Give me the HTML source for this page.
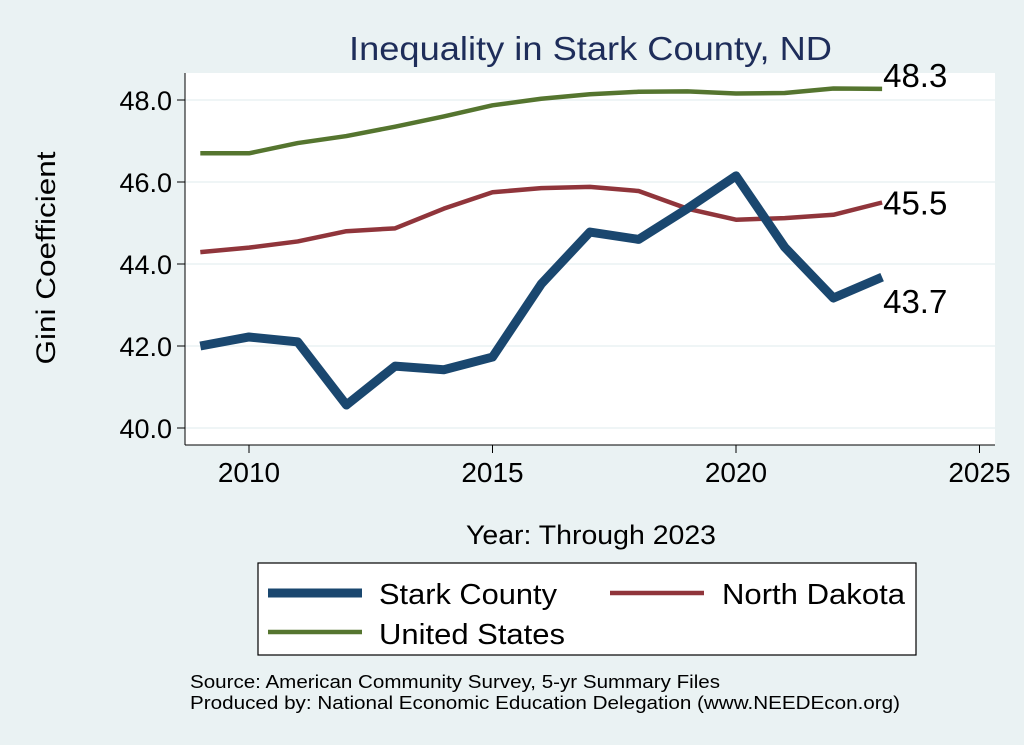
<!DOCTYPE html>
<html><head><meta charset="utf-8"><style>
body{margin:0;background:#eaf2f3;}
svg{display:block;font-family:"Liberation Sans",sans-serif;}
</style></head><body>
<svg id="chart" width="1024" height="745">
<rect x="0" y="0" width="1024" height="745" fill="#eaf2f3"/>
<text x="349" y="60" font-size="33" fill="#1e2d5a" textLength="483" lengthAdjust="spacingAndGlyphs">Inequality in Stark County, ND</text>
<rect x="185" y="73" width="810" height="372" fill="#fff"/>
<g id="grid"></g>
<g id="axes"></g>
<g id="series"></g>
<text x="55" y="258" font-size="27" fill="#000" text-anchor="middle" textLength="213" lengthAdjust="spacingAndGlyphs" transform="rotate(-90 55 258)">Gini Coefficient</text>
<text x="466" y="544" font-size="27" fill="#000" textLength="250" lengthAdjust="spacingAndGlyphs">Year: Through 2023</text>
<g>
<rect x="258" y="563" width="658" height="92" fill="#fff" stroke="#000" stroke-width="1.2"/>
<line x1="268" y1="593" x2="362" y2="593" stroke="#1a476f" stroke-width="9"/>
<text x="379" y="604" font-size="29" textLength="178" lengthAdjust="spacingAndGlyphs">Stark County</text>
<line x1="610" y1="593" x2="704" y2="593" stroke="#90353b" stroke-width="4.5"/>
<text x="722" y="604" font-size="29" textLength="183" lengthAdjust="spacingAndGlyphs">North Dakota</text>
<line x1="268" y1="632" x2="362" y2="632" stroke="#55752f" stroke-width="4.5"/>
<text x="379" y="644" font-size="29" textLength="186" lengthAdjust="spacingAndGlyphs">United States</text>
</g>
<text x="190" y="688" font-size="18" textLength="530" lengthAdjust="spacingAndGlyphs">Source: American Community Survey, 5-yr Summary Files</text>
<text x="190" y="709" font-size="18" textLength="710" lengthAdjust="spacingAndGlyphs">Produced by: National Economic Education Delegation (www.NEEDEcon.org)</text>
</svg>
<script>
const years=[2009,2010,2011,2012,2013,2014,2015,2016,2017,2018,2019,2020,2021,2022,2023];
const stark=[42.0,42.22,42.1,40.56,41.51,41.42,41.73,43.51,44.78,44.6,45.35,46.15,44.41,43.17,43.68];
const northDakota=[44.29,44.4,44.55,44.8,44.87,45.35,45.75,45.85,45.88,45.78,45.35,45.08,45.12,45.2,45.5];
const unitedStates=[46.7,46.7,46.95,47.12,47.35,47.6,47.87,48.03,48.14,48.2,48.21,48.16,48.17,48.28,48.27];
const yTicks=[40,42,44,46,48];
const xTicks=[2010,2015,2020,2025];
const NS="http://www.w3.org/2000/svg";
const X=v=>249+(v-2010)*48.7;
const Y=v=>428-(v-40)*41;
function mk(tag,attrs,parent){const e=document.createElementNS(NS,tag);for(const k in attrs)e.setAttribute(k,attrs[k]);document.getElementById(parent).appendChild(e);return e;}
yTicks.forEach(t=>{
 const g=mk('line',{x1:185,x2:995,y1:Y(t),y2:Y(t),stroke:'#eaf2f3','stroke-width':1.5},'grid');
 
 
 const tk=mk('line',{x1:177,x2:185,y1:Y(t),y2:Y(t),stroke:'#000','stroke-width':1},'axes');
 
 
 const tx=mk('text',{x:172,y:Y(t)+10,'font-size':27,'text-anchor':'end'},'axes');
 tx.textContent=t.toFixed(1);
 
 
});
xTicks.forEach(t=>{
 const tk=mk('line',{x1:X(t),x2:X(t),y1:445,y2:453,stroke:'#000','stroke-width':1},'axes');
 
 
 const tx=mk('text',{x:X(t),y:482,'font-size':28,'text-anchor':'middle'},'axes');
 tx.textContent=t;
 
 
});
const ya=mk('line',{x1:185,x2:185,y1:73,y2:445,stroke:'#000','stroke-width':1},'axes');


const xa=mk('line',{x1:185,x2:995,y1:445,y2:445,stroke:'#000','stroke-width':1},'axes');


function line(vals,color,w,name,dy){
 const p=mk('polyline',{points:vals.map((v,i)=>X(years[i])+','+Y(v)).join(' '),fill:'none',stroke:color,'stroke-width':w,'stroke-linejoin':'round'},'series');
 
 
 const last=vals[vals.length-1];
 const t=mk('text',{x:X(years[years.length-1])+1,y:Y(last)+dy,'font-size':33},'series');
 t.textContent=last.toFixed(1);
 
 
}
line(unitedStates,'#55752f',4.5,'us-line',-2);
line(northDakota,'#90353b',4.5,'nd-line',12);
line(stark,'#1a476f',9,'stark-line',36);
</script>
</body></html>
